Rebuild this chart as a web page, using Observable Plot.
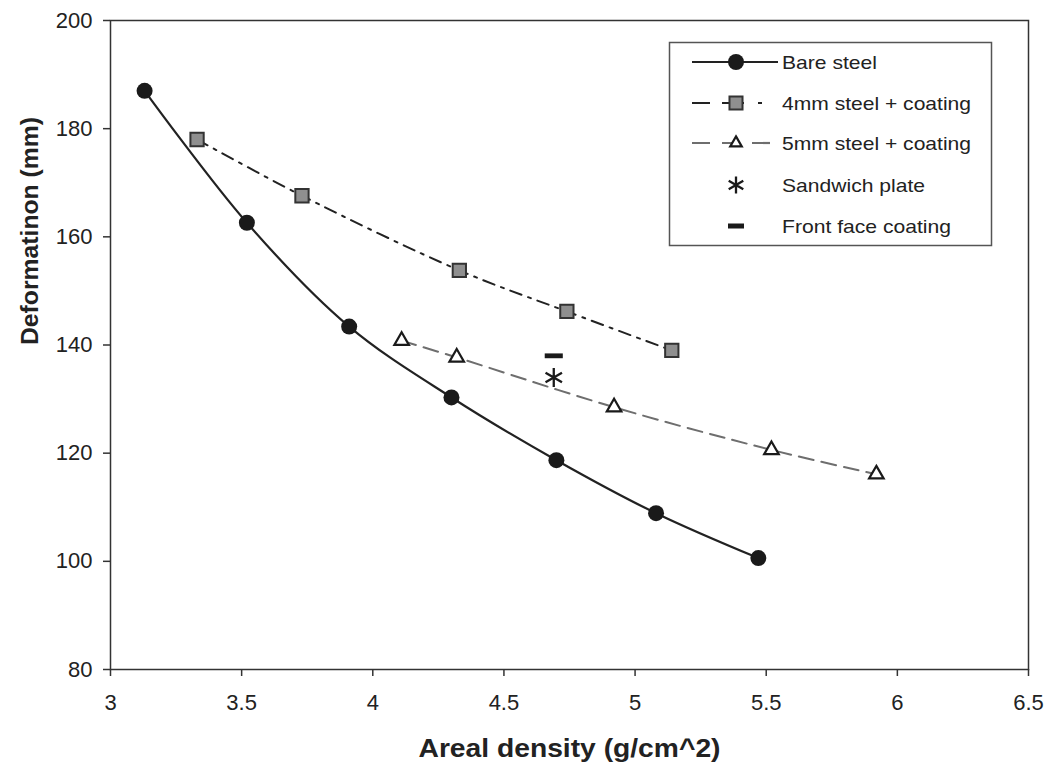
<!DOCTYPE html>
<html>
<head>
<meta charset="utf-8">
<script src="https://cdn.jsdelivr.net/npm/d3@7"></script>
<script src="https://cdn.jsdelivr.net/npm/@observablehq/plot@0.6"></script>
<style>
  body { margin: 0; background: #fff; }
  #chart { width: 1045px; height: 765px; }
</style>
</head>
<body>
<div id="chart"></div>
<script>
// ---- data ----
const bareX = [3.13, 3.52, 3.91, 4.30, 4.70, 5.08, 5.47];
const bareY = [187.0, 162.6, 143.4, 130.3, 118.7, 108.9, 100.6];
const mm4X = [3.33, 3.73, 4.33, 4.74, 5.14];
const mm4Y = [178.0, 167.6, 153.8, 146.2, 139.0];
const mm5X = [4.11, 4.32, 4.92, 5.52, 5.92];
const mm5Y = [140.8, 137.7, 128.5, 120.6, 116.1];
const sandwichX = [4.69];
const sandwichY = [134.0];
const frontX = [4.69];
const frontY = [138.0];
const xTicks = [3, 3.5, 4, 4.5, 5, 5.5, 6, 6.5];
const yTicks = [80, 100, 120, 140, 160, 180, 200];
const legendLabels = ["Bare steel", "4mm steel + coating", "5mm steel + coating", "Sandwich plate", "Front face coating"];
const xTitle = "Areal density (g/cm^2)";
const yTitle = "Deformatinon (mm)";

const toRows = (xs, ys) => xs.map((x, i) => ({x, y: ys[i]}));
const bare = toRows(bareX, bareY);
const mm4 = toRows(mm4X, mm4Y);
const mm5 = toRows(mm5X, mm5Y);
const sandwich = toRows(sandwichX, sandwichY);
const front = toRows(frontX, frontY);

const dashSymbol = {
  draw(context, size) {
    const s = Math.sqrt(size);
    const w = s * 1.2, h = s * 0.32;
    context.moveTo(-w / 2, -h / 2);
    context.lineTo(w / 2, -h / 2);
    context.lineTo(w / 2, h / 2);
    context.lineTo(-w / 2, h / 2);
    context.closePath();
  }
};

const font = "'Liberation Sans', Arial, sans-serif";
const dash4 = "12,7,3,7";
const dash5 = "15,8";

const chart = Plot.plot({
  width: 1045,
  height: 765,
  marginLeft: 110,
  marginRight: 17,
  marginTop: 20,
  marginBottom: 96,
  style: {fontFamily: font, fontSize: "22px", color: "#222", background: "#fff"},
  x: {domain: [3, 6.5]},
  y: {domain: [80, 200]},
  marks: [
    Plot.frame({stroke: "#333", strokeWidth: 1.5}),
    Plot.axisX({ticks: xTicks, tickFormat: d => String(d), tickSize: 7, tickPadding: 18, label: null, stroke: "#333", strokeWidth: 1.5, fontSize: 22}),
    Plot.axisY({ticks: yTicks, tickFormat: d => String(d), tickSize: 7, tickPadding: 11, label: null, stroke: "#333", strokeWidth: 1.5, fontSize: 22}),
    Plot.text([xTitle], {frameAnchor: "bottom", lineAnchor: "middle", dy: 79, fontWeight: "bold", fontSize: 26, fill: "#222", text: d => d}),
    Plot.text([yTitle], {frameAnchor: "left", lineAnchor: "middle", dx: -80, rotate: -90, fontWeight: "bold", fontSize: 24, fill: "#222", text: d => d}),
    Plot.line(mm5, {x: "x", y: "y", curve: "catmull-rom", stroke: "#6e6e6e", strokeWidth: 2, strokeDasharray: dash5}),
    Plot.line(mm4, {x: "x", y: "y", curve: "catmull-rom", stroke: "#222", strokeWidth: 2, strokeDasharray: dash4}),
    Plot.line(bare, {x: "x", y: "y", curve: "catmull-rom", stroke: "#222", strokeWidth: 2.2}),
    Plot.dot(bare, {x: "x", y: "y", r: 8, fill: "#1a1a1a", stroke: "none"}),
    Plot.dot(mm4, {x: "x", y: "y", symbol: "square", r: 7.5, fill: "#8f8f8f", stroke: "#333", strokeWidth: 2}),
    Plot.dot(mm5, {x: "x", y: "y", symbol: "triangle", r: 5.4, fill: "#fff", stroke: "#1a1a1a", strokeWidth: 2.2}),
    Plot.dot(sandwich, {x: "x", y: "y", symbol: "asterisk", r: 9, stroke: "#1a1a1a", strokeWidth: 2.3}),
    Plot.dot(front, {x: "x", y: "y", symbol: dashSymbol, r: 8.5, fill: "#1a1a1a", stroke: "none"})
  ]
});

document.getElementById("chart").appendChild(chart);

const svg = d3.select(chart);
// stretch titles to the reference's wider lettering
svg.selectAll("text").each(function () {
  const t = d3.select(this);
  const s = t.text();
  if (s === xTitle) t.attr("textLength", 302).attr("lengthAdjust", "spacingAndGlyphs");
  if (s === yTitle) t.attr("textLength", 228).attr("lengthAdjust", "spacingAndGlyphs");
});

// ---- legend ----
const lg = svg.append("g").attr("font-family", font).attr("text-anchor", "start");
lg.append("rect").attr("x", 669.5).attr("y", 42.5).attr("width", 322).attr("height", 203)
  .attr("fill", "#fff").attr("stroke", "#555").attr("stroke-width", 1.5);
const rowsY = [62, 103, 143, 185, 226];
const textW = [95, 189, 189, 143, 169];
const lx0 = 692, lx1 = 778, mx = 736, tx = 782;
const sym = (type, size) => d3.symbol(type, size)();
legendLabels.forEach((label, i) => {
  const y = rowsY[i];
  const g = lg.append("g");
  if (i === 0) {
    g.append("line").attr("x1", lx0).attr("x2", lx1).attr("y1", y).attr("y2", y).attr("stroke", "#222").attr("stroke-width", 2.2);
    g.append("circle").attr("cx", mx).attr("cy", y).attr("r", 8).attr("fill", "#1a1a1a");
  } else if (i === 1) {
    g.append("line").attr("x1", lx0).attr("x2", lx1).attr("y1", y).attr("y2", y).attr("stroke", "#222").attr("stroke-width", 2.2).attr("stroke-dasharray", "18,12,22,14,4");
    g.append("path").attr("d", sym(d3.symbolSquare, 170)).attr("transform", `translate(${mx},${y})`).attr("fill", "#8f8f8f").attr("stroke", "#333").attr("stroke-width", 2);
  } else if (i === 2) {
    g.append("line").attr("x1", lx0).attr("x2", lx1).attr("y1", y).attr("y2", y).attr("stroke", "#6e6e6e").attr("stroke-width", 2.2).attr("stroke-dasharray", "18,12");
    g.append("path").attr("d", sym(d3.symbolTriangle2, 95)).attr("transform", `translate(${mx},${y})`).attr("fill", "#fff").attr("stroke", "#1a1a1a").attr("stroke-width", 2.2);
  } else if (i === 3) {
    g.append("path").attr("d", sym(d3.symbolAsterisk, 200)).attr("transform", `translate(${mx},${y})`).attr("fill", "none").attr("stroke", "#1a1a1a").attr("stroke-width", 2.3);
  } else {
    g.append("rect").attr("x", mx - 8).attr("y", y - 2.5).attr("width", 16).attr("height", 5).attr("fill", "#1a1a1a");
  }
  g.append("text").attr("x", tx).attr("y", y).attr("dy", "0.35em").attr("font-size", 19).attr("fill", "#222")
    .attr("textLength", textW[i]).attr("lengthAdjust", "spacingAndGlyphs").text(label);
});
</script>
</body>
</html>
